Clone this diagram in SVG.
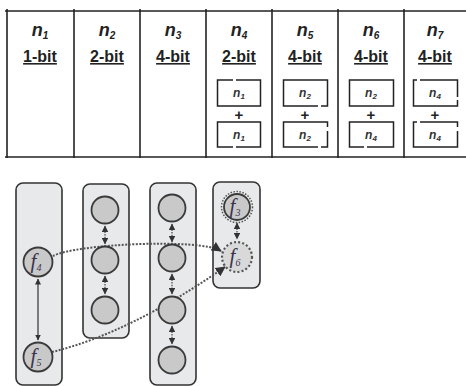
<svg xmlns="http://www.w3.org/2000/svg" width="466" height="386" viewBox="0 0 466 386">
  <defs>
    <marker id="ah" viewBox="0 0 6 6" refX="5.5" refY="3" markerWidth="5" markerHeight="5" orient="auto-start-reverse">
      <path d="M0,0 L6,3 L0,6 Z" fill="#333"/>
    </marker>
  </defs>
  <style>
    .grid { stroke: #222; stroke-width: 1.6; fill: none; }
    .hd { font-family: "Liberation Sans", Arial, sans-serif; font-weight: bold; font-style: italic; font-size: 18px; fill: #222; text-anchor: middle; }
    .bits { font-family: "Liberation Sans", Arial, sans-serif; font-weight: bold; font-size: 16px; fill: #222; text-anchor: middle; text-decoration: underline; }
    .sub { font-size: 10px; }
    .slot { stroke: #222; stroke-width: 1.5; fill: none; }
    .sl { font-family: "Liberation Sans", Arial, sans-serif; font-weight: bold; font-style: italic; font-size: 12px; fill: #333; text-anchor: middle; }
    .ss { font-size: 8px; }
    .plus { font-family: "Liberation Sans", Arial, sans-serif; font-weight: bold; font-size: 15px; fill: #222; text-anchor: middle; }
    .panel { fill: #e8e9ea; stroke: #333; stroke-width: 1.6; }
    .node { fill: #c9c9c9; stroke: #3a3a3a; stroke-width: 1.8; }
    .fl { font-family: "Liberation Serif", "Times New Roman", serif; font-style: italic; font-size: 21px; fill: #3a3350; text-anchor: middle; }
    .fs { font-size: 10px; }
    .solid { stroke: #333; stroke-width: 1.2; fill: none; }
    .dot { stroke: #555; stroke-width: 1.3; stroke-dasharray: 1.5 1.2; fill: none; }
    .link { stroke: #555; stroke-width: 2; stroke-dasharray: 2 1.5; fill: none; }
  </style>

  <!-- table grid -->
  <g id="table">
    <line class="grid" x1="5" y1="11" x2="466" y2="11"/>
    <line class="grid" x1="5" y1="157" x2="466" y2="157"/>
    <line class="grid" x1="7" y1="9" x2="7" y2="158"/>
    <line class="grid" x1="74" y1="9" x2="74" y2="158"/>
    <line class="grid" x1="140" y1="9" x2="140" y2="158"/>
    <line class="grid" x1="206" y1="9" x2="206" y2="158"/>
    <line class="grid" x1="272" y1="9" x2="272" y2="158"/>
    <line class="grid" x1="338" y1="9" x2="338" y2="158"/>
    <line class="grid" x1="404" y1="9" x2="404" y2="158"/>
  </g>

  <g id="col-n1">
    <text class="hd" x="40" y="36">n<tspan class="sub" dy="3">1</tspan></text>
    <text class="bits" x="40" y="62">1-bit</text>
  </g>
  <g id="col-n2">
    <text class="hd" x="107" y="36">n<tspan class="sub" dy="3">2</tspan></text>
    <text class="bits" x="107" y="62">2-bit</text>
  </g>
  <g id="col-n3">
    <text class="hd" x="173" y="36">n<tspan class="sub" dy="3">3</tspan></text>
    <text class="bits" x="173" y="62">4-bit</text>
  </g>

  <g id="col-n4">
    <text class="hd" x="239" y="36">n<tspan class="sub" dy="3">4</tspan></text>
    <text class="bits" x="239" y="62">2-bit</text>
    <path class="slot" d="M233,80 H217.5 V106 H260.5 V80 H236"/>
    <text class="sl" x="239" y="97">n<tspan class="ss" dy="2">1</tspan></text>
    <text class="plus" x="239" y="120">+</text>
    <path class="slot" d="M233,147 H217.5 V122 H260.5 V147 H236"/>
    <text class="sl" x="239" y="139">n<tspan class="ss" dy="2">1</tspan></text>
  </g>

  <g id="col-n5">
    <text class="hd" x="305" y="36">n<tspan class="sub" dy="3">5</tspan></text>
    <text class="bits" x="305" y="62">4-bit</text>
    <path class="slot" d="M318,106 H283.5 V80 H327.5 V106 H321"/>
    <text class="sl" x="305" y="97">n<tspan class="ss" dy="2">2</tspan></text>
    <text class="plus" x="305" y="120">+</text>
    <path class="slot" d="M327.5,127 V122 H283.5 V147 H318 M321,147 H327.5 V131"/>
    <text class="sl" x="305" y="139">n<tspan class="ss" dy="2">2</tspan></text>
  </g>

  <g id="col-n6">
    <text class="hd" x="371" y="36">n<tspan class="sub" dy="3">6</tspan></text>
    <text class="bits" x="371" y="62">4-bit</text>
    <rect class="slot" x="349.5" y="80" width="44" height="26"/>
    <text class="sl" x="371" y="97">n<tspan class="ss" dy="2">2</tspan></text>
    <text class="plus" x="371" y="120">+</text>
    <path class="slot" d="M364,147 H349.5 V122 H393.5 V147 H367"/>
    <text class="sl" x="371" y="139">n<tspan class="ss" dy="2">4</tspan></text>
  </g>

  <g id="col-n7">
    <text class="hd" x="435" y="36">n<tspan class="sub" dy="3">7</tspan></text>
    <text class="bits" x="435" y="62">4-bit</text>
    <path class="slot" d="M417,80 H413.5 V106 H457.5 V100 M457.5,97 V80 H420"/>
    <text class="sl" x="435" y="97">n<tspan class="ss" dy="2">4</tspan></text>
    <text class="plus" x="435" y="120">+</text>
    <path class="slot" d="M417,122 H413.5 V147 H457.5 V131 M457.5,127 V122 H420"/>
    <text class="sl" x="435" y="139">n<tspan class="ss" dy="2">4</tspan></text>
  </g>

  <!-- graph panels -->
  <g id="panel-a">
    <rect class="panel" x="16" y="183" width="46" height="202" rx="7"/>
  </g>
  <g id="panel-b">
    <rect class="panel" x="83" y="184" width="46" height="154" rx="7"/>
  </g>
  <g id="panel-c">
    <rect class="panel" x="150" y="183" width="46" height="202" rx="7"/>
  </g>
  <g id="panel-d">
    <rect class="panel" x="213" y="182" width="47" height="106" rx="7"/>
  </g>

  <!-- connectors -->
  <g id="connectors">
    <line class="solid" x1="38" y1="279" x2="38" y2="340" marker-start="url(#ah)" marker-end="url(#ah)"/>
    <line class="dot" x1="105" y1="226" x2="105" y2="244" marker-start="url(#ah)" marker-end="url(#ah)"/>
    <line class="dot" x1="105" y1="276" x2="105" y2="294" marker-start="url(#ah)" marker-end="url(#ah)"/>
    <line class="dot" x1="172" y1="224" x2="172" y2="242" marker-start="url(#ah)" marker-end="url(#ah)"/>
    <line class="dot" x1="172" y1="274" x2="172" y2="294" marker-start="url(#ah)" marker-end="url(#ah)"/>
    <line class="dot" x1="172" y1="326" x2="172" y2="344" marker-start="url(#ah)" marker-end="url(#ah)"/>
    <line class="dot" x1="237" y1="223" x2="237" y2="239" marker-start="url(#ah)" marker-end="url(#ah)"/>
    <path class="link" d="M53,256 C75,244 200,238 221,251" marker-end="url(#ah)"/>
    <path class="link" d="M52,352 Q130,333 225,267" marker-end="url(#ah)"/>
  </g>

  <!-- nodes -->
  <g id="node-f4">
    <circle class="node" cx="38" cy="262" r="14.5"/>
    <text class="fl" x="36" y="268">f<tspan class="fs" dy="3">4</tspan></text>
  </g>
  <g id="node-f5">
    <circle class="node" cx="38" cy="357" r="14.5"/>
    <text class="fl" x="36" y="363">f<tspan class="fs" dy="3">5</tspan></text>
  </g>
  <g id="node-b1"><circle class="node" cx="105" cy="210" r="13.5"/></g>
  <g id="node-b2"><circle class="node" cx="105" cy="260" r="13.5"/></g>
  <g id="node-b3"><circle class="node" cx="105" cy="310" r="13.5"/></g>
  <g id="node-c1"><circle class="node" cx="172" cy="208" r="13.5"/></g>
  <g id="node-c2"><circle class="node" cx="172" cy="258" r="13.5"/></g>
  <g id="node-c3"><circle class="node" cx="172" cy="310" r="13.5"/></g>
  <g id="node-c4"><circle class="node" cx="172" cy="360" r="13.5"/></g>
  <g id="node-f3">
    <circle cx="237" cy="207" r="15.5" fill="none" stroke="#555" stroke-width="1.5" stroke-dasharray="1.5 1.5"/>
    <circle class="node" cx="237" cy="207" r="13"/>
    <text class="fl" x="235" y="213">f<tspan class="fs" dy="3">3</tspan></text>
  </g>
  <g id="node-f6">
    <circle cx="237" cy="257" r="15" fill="#d9d9d9" stroke="#555" stroke-width="2.2" stroke-dasharray="2 2.2"/>
    <text class="fl" x="235" y="263">f<tspan class="fs" dy="3">6</tspan></text>
  </g>
</svg>
